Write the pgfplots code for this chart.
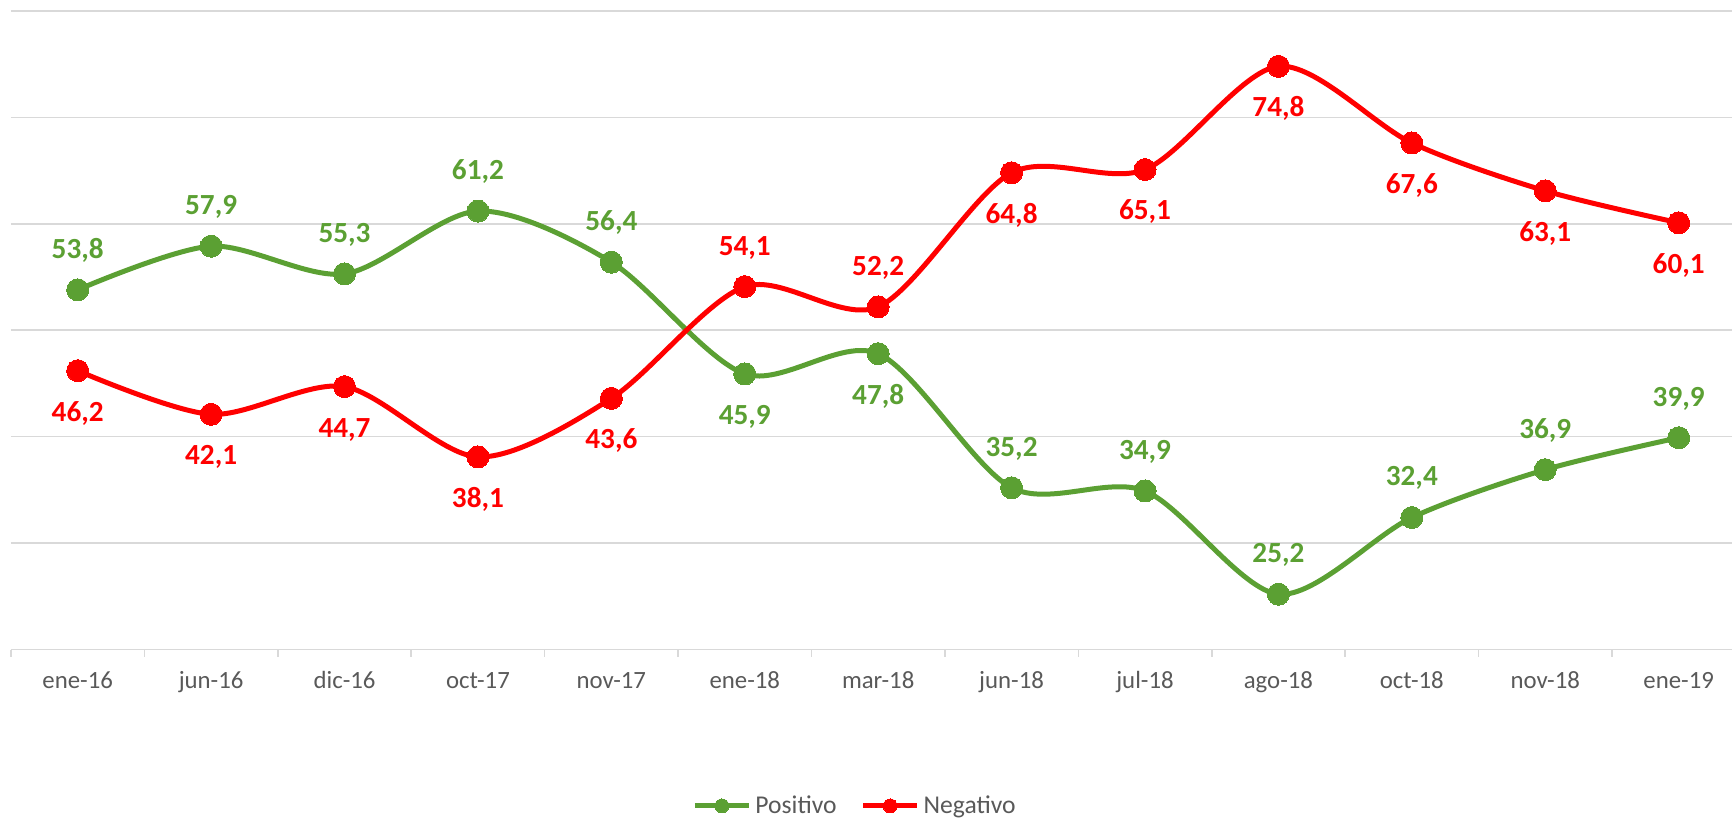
\documentclass[border=0pt]{standalone}
\usepackage{pgfplots}
\pgfplotsset{compat=1.18}
\usepackage{fontspec}
\setmainfont{Carlito}
\definecolor{cpos}{HTML}{5BA033}
\definecolor{cneg}{HTML}{FF0000}
\definecolor{gridc}{HTML}{D9D9D9}
\definecolor{txt}{HTML}{595959}
\begin{document}
\begin{tikzpicture}
\path[use as bounding box] (0,0) rectangle (866pt,409pt);
\begin{axis}[
  at={(5.5pt,84.25pt)}, anchor=south west,
  scale only axis, width=860.5pt, height=319.25pt,
  xmin=-0.5, xmax=12.4, ymin=20, ymax=80,
  axis x line=bottom,
  x axis line style={-, draw=gridc, line width=0.8pt},
  y axis line style={draw=none},
  ytick={30,40,...,80}, yticklabels={},
  ymajorgrids, grid style={gridc, line width=0.8pt},
  y tick style={draw=none},
  xtick={0,...,12},
  xticklabels={ene-16,jun-16,dic-16,oct-17,nov-17,ene-18,mar-18,jun-18,jul-18,ago-18,oct-18,nov-18,ene-19},
  major tick length=0pt,
  tick style={gridc, line width=0.8pt},
  extra x ticks={-0.5,0.5,...,11.5},
  extra x tick labels={},
  extra x tick style={major tick length=3.5pt, tick align=outside},
  xticklabel style={anchor=base, yshift=-19.5pt, font=\fontsize{12.4}{15}\selectfont, text=txt},
  clip=false,
  legend style={draw=none, at={(axis description cs:0.491,-0.245)}, anchor=center,
    legend columns=2, font=\fontsize{12.8}{15}\selectfont, text=txt,
    /tikz/every even column/.append style={column sep=10pt},
    inner sep=0pt},
  legend image code/.code={\draw[mark repeat=2,mark phase=2,#1,mark size=3.5pt] plot coordinates {(0pt,0pt) (13.5pt,0pt) (27pt,0pt)};},
  visualization depends on={\thisrow{p}\as\pp},
  nodes near coords={\pgfmathprintnumber[assume math mode=true,use comma,fixed,fixed zerofill,precision=1]{\pgfplotspointmeta}},
  every node near coord/.append style={anchor=base, yshift=\pp*20.5pt-4.7pt, font=\fontsize{14.6}{17}\selectfont\bfseries},
]
\addplot[cpos, line width=2.5pt, smooth, mark=*, mark size=5.5pt, mark options={fill=cpos, draw=cpos, line width=0pt},
  every node near coord/.append style={text=cpos}]
  table {
x y p
0 53.8 1
1 57.9 1
2 55.3 1
3 61.2 1
4 56.4 1
5 45.9 -1
6 47.8 -1
7 35.2 1
8 34.9 1
9 25.2 1
10 32.4 1
11 36.9 1
12 39.9 1
};
\addlegendentry{Positivo}
\addplot[cneg, line width=2.5pt, smooth, mark=*, mark size=5.5pt, mark options={fill=cneg, draw=cneg, line width=0pt},
  every node near coord/.append style={text=cneg}]
  table {
x y p
0 46.2 -1
1 42.1 -1
2 44.7 -1
3 38.1 -1
4 43.6 -1
5 54.1 1
6 52.2 1
7 64.8 -1
8 65.1 -1
9 74.8 -1
10 67.6 -1
11 63.1 -1
12 60.1 -1
};
\addlegendentry{Negativo}
\end{axis}
\end{tikzpicture}
\end{document}
